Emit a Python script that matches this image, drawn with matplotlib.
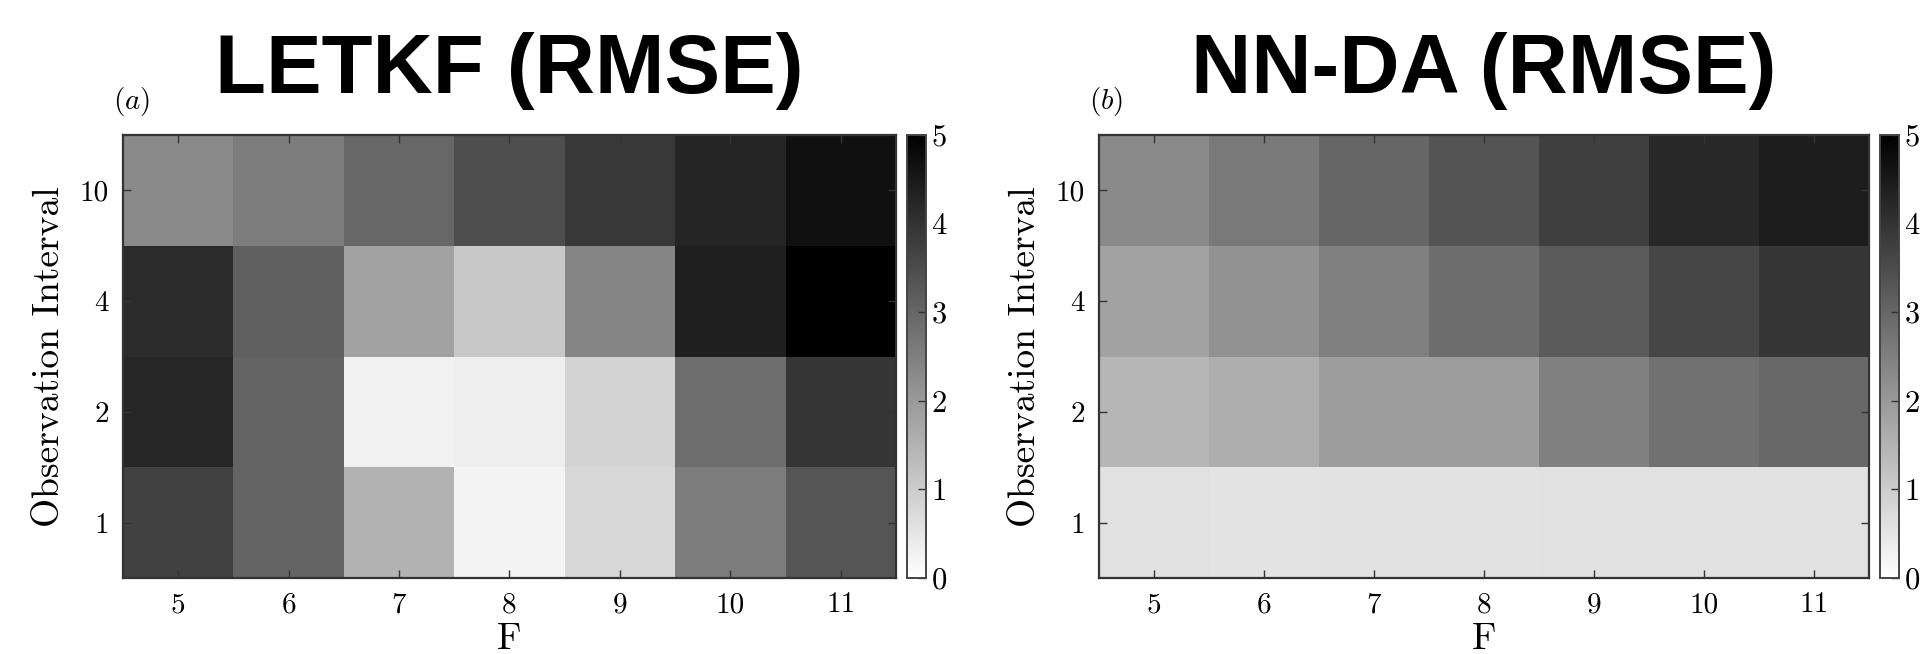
import numpy as np
import matplotlib
matplotlib.use("Agg")
import matplotlib.pyplot as plt

plt.rcParams['mathtext.fontset'] = 'cm'

F_values = [5, 6, 7, 8, 9, 10, 11]
obs_intervals = [1, 2, 4, 10]

# rows: obs interval 1, 2, 4, 10 ; columns: F = 5..11
letkf_rmse = [
    [3.73, 3.04, 1.51, 0.22, 0.80, 2.57, 3.33],
    [4.24, 3.04, 0.29, 0.35, 0.86, 2.84, 3.96],
    [4.16, 3.12, 1.82, 1.08, 2.39, 4.39, 5.00],
    [2.29, 2.55, 2.98, 3.49, 3.90, 4.27, 4.65],
]
nnda_rmse = [
    [0.59, 0.55, 0.57, 0.57, 0.59, 0.57, 0.60],
    [1.43, 1.59, 1.90, 1.90, 2.49, 2.76, 2.96],
    [1.82, 2.14, 2.49, 2.86, 3.22, 3.63, 3.94],
    [2.29, 2.61, 3.00, 3.35, 3.75, 4.18, 4.43],
]
titles = ["LETKF (RMSE)", "NN-DA (RMSE)"]
panel_labels = [r"$(a)$", r"$(b)$"]
cbar_ticks = [0, 1, 2, 3, 4, 5]

W, H = 1929, 654
fig = plt.figure(figsize=(W / 100, H / 100), dpi=100)

ax_specs = [(123, 896, 907), (1099, 1869, 1880)]
top_px, bot_px = 135, 578
serif = 'cmr10'

for k, data in enumerate([letkf_rmse, nnda_rmse]):
    l, r, cb = ax_specs[k]
    ax = fig.add_axes([l / W, 1 - bot_px / H, (r - l) / W, (bot_px - top_px) / H])
    im = ax.imshow(np.array(data), cmap='gray_r', vmin=0, vmax=5, origin='lower',
                   aspect='auto', interpolation='nearest')
    ax.set_xticks(range(len(F_values)))
    ax.set_xticklabels([str(v) for v in F_values], fontfamily=serif, fontsize=21)
    ax.set_yticks(range(len(obs_intervals)))
    ax.set_yticklabels([str(v) for v in obs_intervals], fontfamily=serif, fontsize=21)
    ax.tick_params(direction='in', top=True, right=True, length=6, width=1,
                   color='#333333', pad=10)
    for s in ax.spines.values():
        s.set_linewidth(1.6)
        s.set_color('#333333')
    ax.set_xlabel("F", fontfamily=serif, fontsize=27, labelpad=3)
    ax.set_ylabel("Observation Interval", fontfamily=serif, fontsize=27, labelpad=10)

    cax = fig.add_axes([cb / W, 1 - bot_px / H, 19 / W, (bot_px - top_px) / H])
    cbar = fig.colorbar(im, cax=cax, ticks=cbar_ticks)
    cbar.outline.set_linewidth(1.4)
    cbar.outline.set_edgecolor('#444444')
    cax.tick_params(direction='in', length=6, width=1, color='#333333', pad=4)
    cax.set_yticklabels([str(v) for v in cbar_ticks], fontfamily=serif, fontsize=22)

    cx = (l + r) / 2 / W
    fig.text(cx, 1 - 71 / H, titles[k], ha='center', va='center',
             fontfamily='Liberation Sans', fontweight='bold', fontsize=60)
    fig.text((l - 10) / W, 1 - 101 / H, panel_labels[k], ha='left', va='center',
             fontsize=21)

fig.savefig("out.png", dpi=100)
